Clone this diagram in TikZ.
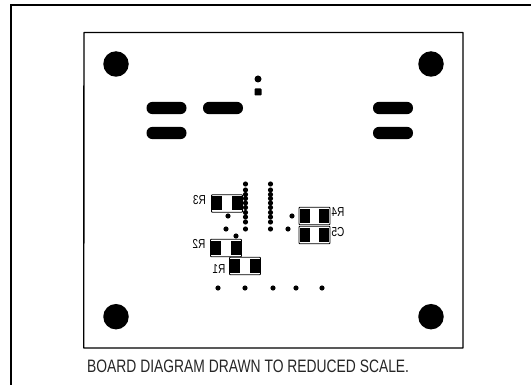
\documentclass[tikz,border=0pt]{standalone}
\usepackage{fontspec}
\setmainfont{Liberation Sans}
\newfontfamily\narrowfont[FakeStretch=0.77]{Liberation Sans}
\tikzset{
  page/.style={line width=2pt,draw=black},
  board/.style={line width=1.4pt,draw=black,line join=round},
  hole/.style={circle,fill=black,inner sep=0pt,minimum size=25.5pt},
  via/.style={circle,fill=black,inner sep=0pt,minimum size=5.2pt},
  bigvia/.style={circle,fill=black,inner sep=0pt,minimum size=7pt},
  sqpad/.style={rectangle,fill=black,inner sep=0pt,minimum size=7pt,rounded corners=0.8pt},
  slot/.style={rectangle,rounded corners=5.9pt,fill=black,inner sep=0pt,minimum width=40pt,minimum height=12.2pt},
  smdbox/.style={rectangle,draw=black,line width=0.9pt,rounded corners=0.8pt,inner sep=0pt,minimum width=31pt,minimum height=17.5pt,fill=white},
  smdpad/.style={rectangle,fill=black,inner sep=0pt,minimum width=10pt,minimum height=14pt},
  mirror/.style={xscale=-1,transform shape,font=\narrowfont\fontsize{13}{14}\selectfont,inner sep=0pt},
  caption/.style={font=\narrowfont\fontsize{18}{20}\selectfont,anchor=west,inner sep=0pt,text=black!85}
}
\newcommand{\smd}[3]{%
  \node[smdbox] (#1) at (#2,#3) {};
  \node[smdpad] (#1a) at (#2-9.6,#3) {};
  \node[smdpad] (#1b) at (#2+9.6,#3) {};
}
\begin{document}
\begin{tikzpicture}[x=1pt,y=-1pt]
\useasboundingbox[fill=white] (0,0) rectangle (531,385);
\draw[page] (531,5.5) -- (11,5.5) -- (11,385);
\draw[board] (84,32.5) -- (463,32.5) -- (463,348) -- (83.7,348) -- cycle;
\node[hole] (h1) at (116,64) {};
\node[hole] (h2) at (431,64) {};
\node[hole] (h3) at (116,316.7) {};
\node[hole] (h4) at (431,316.7) {};
\node[bigvia] (t1) at (258,79) {};
\node[sqpad] (t2) at (258,92) {};
\node[slot] (s1) at (166.5,108) {};
\node[slot] (s2) at (166.5,133) {};
\node[slot] (s3) at (223,108) {};
\node[slot] (s4) at (393,108) {};
\node[slot] (s5) at (393,133) {};
\smd{r3}{227}{203.5}
\smd{r2}{226}{248}
\smd{r1}{245}{266}
\smd{r4}{314.5}{216}
\smd{c5}{314.5}{235}
\foreach \i/\y in {0/184,1/190,2/194.5,3/198.5,4/203,5/207.5,6/212.5,7/217,8/222,9/229}{
  \node[via] (a\i) at (245.5,\y) {};
  \node[via] (b\i) at (270.5,\y) {};
}
\foreach \i/\x in {1/218,2/245,3/273,4/296,5/322}{
  \node[via] (d\i) at (\x,288) {};
}
\node[via] (e1) at (228,216) {};
\node[via] (e2) at (226,229) {};
\node[via] (e3) at (236,236) {};
\node[via] (e4) at (292,216) {};
\node[via] (e5) at (288,229) {};
\node[mirror] (l3) at (199.5,200) {R3};
\node[mirror] (l2) at (199,244) {R2};
\node[mirror] (l1) at (219,269) {R1};
\node[mirror] (l4) at (338,212) {R4};
\node[mirror] (l5) at (338,232) {C5};
\node[caption] (cap) at (87,366) {BOARD DIAGRAM DRAWN TO REDUCED SCALE.};
\end{tikzpicture}
\end{document}
